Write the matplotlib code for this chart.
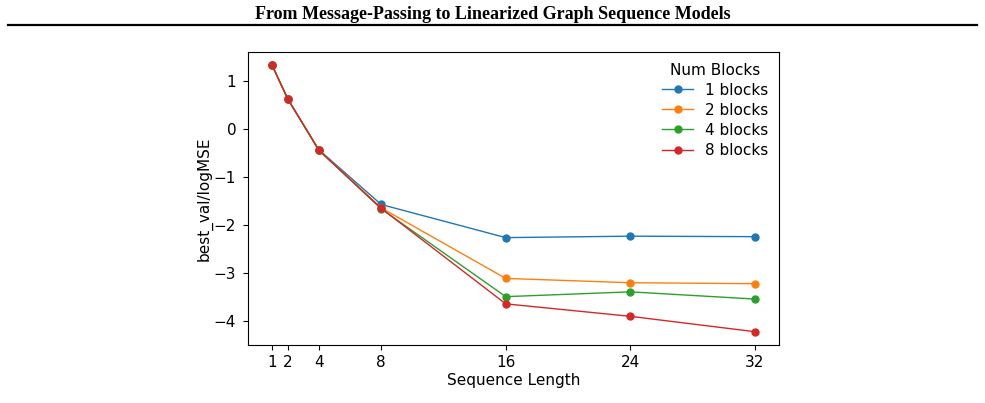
import numpy as np
import matplotlib
matplotlib.use("Agg")
import matplotlib.pyplot as plt
from matplotlib.lines import Line2D

#----------------------------------------------------------------------
# data

seq_len = [1, 2, 4, 8, 16, 24, 32]
blocks_1 = [1.33, 0.63, -0.43, -1.57, -2.26, -2.23, -2.24]
blocks_2 = [1.33, 0.63, -0.44, -1.64, -3.11, -3.20, -3.22]
blocks_4 = [1.33, 0.63, -0.44, -1.66, -3.49, -3.39, -3.54]
blocks_8 = [1.33, 0.63, -0.44, -1.65, -3.64, -3.90, -4.22]
labels = ["1 blocks", "2 blocks", "4 blocks", "8 blocks"]

#----------------------------------------------------------------------

fig = plt.figure(figsize=(9.85, 4.03), dpi=100)

# page header
fig.text(0.5, 0.963, "From Message-Passing to Linearized Graph Sequence Models",
         ha="center", va="center", fontsize=13, fontweight="bold",
         family=["Liberation Serif", "DejaVu Serif"])
fig.add_artist(Line2D([0.008, 0.992], [0.937, 0.937], color="black", lw=1.6,
                      transform=fig.transFigure))

ax = fig.add_axes([0.2518, 0.1439, 0.5391, 0.7271])
for ys, lab in zip([blocks_1, blocks_2, blocks_4, blocks_8], labels):
    ax.plot(seq_len, ys, "-o", lw=1.0, markersize=5, label=lab)

ax.set_xticks(seq_len)
ax.tick_params(labelsize=11)
ax.tick_params(axis="y", pad=5)
ax.set_xlabel("Sequence Length", fontsize=11, labelpad=2)
ax.set_ylabel("best_val/logMSE", fontsize=11, labelpad=1)
ax.legend(title="Num Blocks", frameon=False, fontsize=11, title_fontsize=11,
          loc="upper right", labelspacing=0.33, borderaxespad=0.3)

fig.savefig("out.png", dpi=100)
